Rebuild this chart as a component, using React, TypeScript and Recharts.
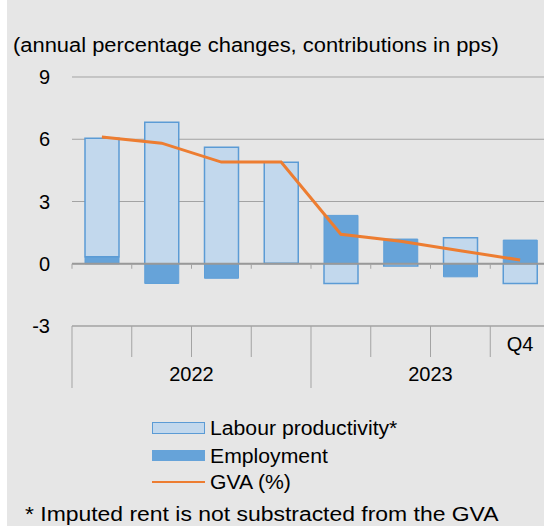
import React from 'react';
import { ComposedChart, Bar, Line, XAxis, YAxis, CartesianGrid, ReferenceLine } from 'recharts';

const quarters = ['2022 Q1', '2022 Q2', '2022 Q3', '2022 Q4', '2023 Q1', '2023 Q2', '2023 Q3', '2023 Q4'];
const quarterLabels = ['', '', '', '', '', '', '', 'Q4'];
const years = ['2022', '2022', '2022', '2022', '2023', '2023', '2023', '2023'];
const labourProductivity = [5.71, 6.82, 5.62, 4.87, -0.95, -0.11, 1.25, -0.95];
const employment = [0.34, -0.95, -0.7, 0.02, 2.33, 1.19, -0.63, 1.14];
const gva = [6.11, 5.81, 4.9, 4.9, 1.42, 1.08, 0.63, 0.18];
const yTicks = [-3, 0, 3, 6, 9];
const seriesNames = ['Labour productivity*', 'Employment', 'GVA (%)'];

const FONT = '"Liberation Sans", Arial, sans-serif';
const GRID = '#a3a3a3';
const LP_FILL = '#c2d8ed';
const LP_STROKE = '#5b9bd5';
const EMP_FILL = '#66a3d9';
const ORANGE = '#ed7d31';

const data = quarters.map((q, i) => ({
  quarter: q,
  qLabel: quarterLabels[i],
  year: years[i],
  lp: labourProductivity[i],
  emp: employment[i],
  gva: gva[i],
}));

const QuarterTick = (props: any) => {
  const { x, y, payload, index } = props;
  const half = payload && typeof payload.offset === 'number' && payload.offset > 0 ? payload.offset : 29.9;
  const i = typeof index === 'number' ? index : payload.index;
  const isYearStart = years[i] !== years[i - 1];
  const isLast = i === data.length - 1;
  return (
    <g>
      <line x1={x - half} y1={y} x2={x - half} y2={y + (isYearStart ? 62 : 31)} stroke={GRID} strokeWidth={1} />
      {isLast && <line x1={x + half} y1={y} x2={x + half} y2={y + 62} stroke={GRID} strokeWidth={1} />}
      <text x={x} y={y + 25} textAnchor="middle" fontSize={20} fontFamily={FONT} fill="#000">
        {quarterLabels[i]}
      </text>
    </g>
  );
};

const YearTick = (props: any) => {
  const { x, y, payload } = props;
  return (
    <text x={x} y={y + 24} textAnchor="middle" fontSize={20} fontFamily={FONT} fill="#000">
      {payload.value}
    </text>
  );
};

const ZeroLine = (props: any) => {
  const { x1, y1, x2 } = props;
  const n = data.length;
  const ticks = [];
  for (let i = 0; i <= n; i++) {
    const tx = x1 + (i * (x2 - x1)) / n;
    ticks.push(<line key={i} x1={tx} y1={y1} x2={tx} y2={y1 + 5} stroke={GRID} strokeWidth={1} />);
  }
  return (
    <g>
      <line x1={x1} y1={y1} x2={x2} y2={y1} stroke="#999" strokeWidth={2} />
      {ticks}
    </g>
  );
};

const textStyle = (left: number, top: number, sx: number): React.CSSProperties => ({
  position: 'absolute',
  left,
  top,
  fontSize: 20,
  lineHeight: '24px',
  whiteSpace: 'nowrap',
  color: '#000',
  transform: `scaleX(${sx})`,
  transformOrigin: 'left center',
});

export default function App() {
  return (
    <div style={{ position: 'absolute', left: 0, top: 0, width: 544, height: 529, overflow: 'hidden', background: '#fff', fontFamily: FONT }}>
      <div style={{ position: 'absolute', left: 7, top: 0, width: 537, height: 526, background: '#e6e6e6' }} />
      <div style={textStyle(13, 33, 1.095)}>(annual percentage changes, contributions in pps)</div>
      <div style={{ position: 'absolute', left: 0, top: 0 }}>
        <ComposedChart
          width={560}
          height={400}
          data={data}
          stackOffset="sign"
          margin={{ top: 77, right: 10, bottom: 12, left: 0 }}
        >
          <CartesianGrid vertical={false} stroke={GRID} strokeWidth={1} />
          <XAxis
            xAxisId="q"
            dataKey="quarter"
            interval={0}
            height={31}
            tickLine={false}
            tickSize={0}
            tickMargin={0}
            axisLine={{ stroke: GRID }}
            tick={<QuarterTick />}
          />
          <XAxis
            xAxisId="y"
            dataKey="year"
            allowDuplicatedCategory={false}
            interval={0}
            height={31}
            tickLine={false}
            tickSize={0}
            tickMargin={0}
            axisLine={false}
            tick={<YearTick />}
          />
          <YAxis
            domain={[-3, 9]}
            ticks={yTicks}
            width={72}
            axisLine={false}
            tickLine={false}
            tickSize={0}
            tickMargin={22}
            tick={{ fontSize: 20, fontFamily: FONT, fill: '#000' }}
          />
          <ReferenceLine xAxisId="q" y={0} shape={<ZeroLine />} />
          <Bar xAxisId="q" dataKey="emp" name={seriesNames[1]} stackId="s" barSize={34} fill={EMP_FILL} stroke="#5f9fd8" strokeWidth={1} isAnimationActive={false} />
          <Bar xAxisId="q" dataKey="lp" name={seriesNames[0]} stackId="s" barSize={34} fill={LP_FILL} stroke={LP_STROKE} strokeWidth={1.5} isAnimationActive={false} />
          <Line xAxisId="q" dataKey="gva" name={seriesNames[2]} type="linear" stroke={ORANGE} strokeWidth={3} dot={false} isAnimationActive={false} />
        </ComposedChart>
      </div>
      <div style={{ position: 'absolute', left: 152, top: 422, width: 51, height: 10, background: LP_FILL, border: `1px solid ${LP_STROKE}` }} />
      <div style={{ position: 'absolute', left: 152, top: 450, width: 53, height: 11, background: EMP_FILL }} />
      <div style={{ position: 'absolute', left: 152, top: 481, width: 53, height: 2, background: ORANGE }} />
      <div style={textStyle(210, 416, 1.06)}>{seriesNames[0]}</div>
      <div style={textStyle(210, 444, 1.06)}>{seriesNames[1]}</div>
      <div style={textStyle(210, 470, 1.06)}>{seriesNames[2]}</div>
      <div style={textStyle(25, 502, 1.146)}>* Imputed rent is not substracted from the GVA</div>
    </div>
  );
}
